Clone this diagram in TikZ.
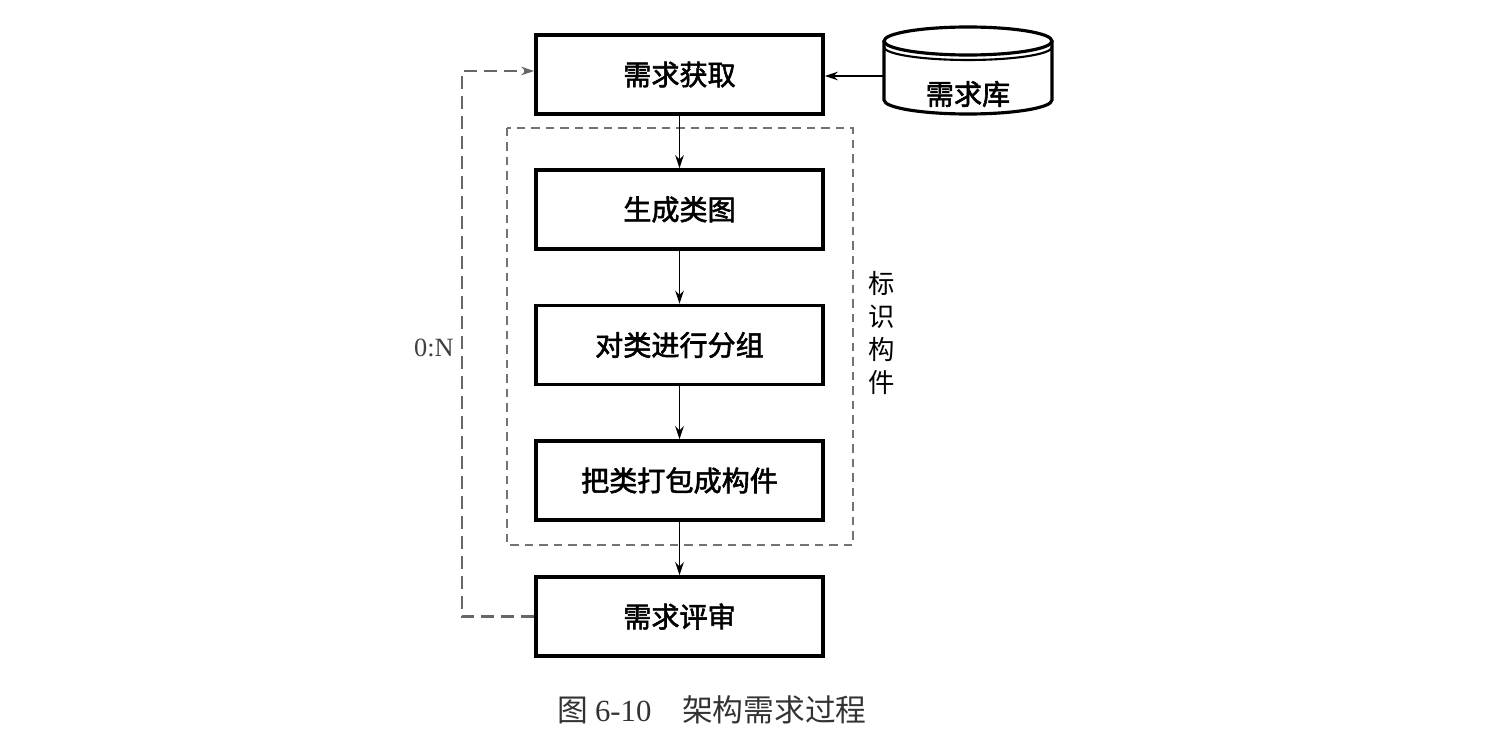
\documentclass[tikz,border=0pt]{standalone}
\usepackage{fontspec}
\setmainfont{Liberation Serif}
\newfontfamily\cjk{Noto Sans CJK SC}
\newfontfamily\cjkb{Noto Sans CJK SC}[FakeBold=2]
\usetikzlibrary{arrows.meta}
\begin{document}
\begin{tikzpicture}[x=0.02cm,y=-0.02cm,
  procbox/.style={draw, line width=2pt, minimum width=5.74cm, minimum height=1.58cm, inner sep=0pt,
    font=\cjkb\fontsize{16}{16}\selectfont},
  arr/.style={line width=0.7pt, -{Stealth[length=2.6mm,width=1.7mm]}},
  gdash/.style={draw=black!60, line width=1.5pt, dash pattern=on 0.26cm off 0.14cm},
  gdashbox/.style={draw=black!55, line width=1.4pt, dash pattern=on 0.17cm off 0.12cm},
  cyl/.style={line width=1.8pt}]
\useasboundingbox (0,0) rectangle (1490,750);
% process boxes
\node[procbox] (b1) at (679.5,74.5) {需求获取};
\node[procbox] (b2) at (679.5,209.5) {生成类图};
\node[procbox] (b3) at (679.5,345) {对类进行分组};
\node[procbox] (b4) at (679.5,480.5) {把类打包成构件};
\node[procbox] (b5) at (679.5,616.5) {需求评审};
% dashed group
\draw[gdashbox] (507,128) rectangle (853,545);
\node[font=\cjk\fontsize{15}{18.8}\selectfont, align=center, inner sep=0pt] (lbl) at (882,333) {标\\识\\构\\件};
% connectors
\draw[arr] (b1) -- (b2);
\draw[arr] (b2) -- (b3);
\draw[arr] (b3) -- (b4);
\draw[arr] (b4) -- (b5);
% database cylinder
\draw[cyl] (884,41) -- (884,100) arc[start angle=180, end angle=360, x radius=1.68cm, y radius=0.28cm] -- (1052,41);
\draw[cyl] (968,41) ellipse [x radius=1.68cm, y radius=0.28cm];
\draw[line width=1.2pt] (884,47) arc[start angle=180, end angle=360, x radius=1.68cm, y radius=0.26cm];
\node[font=\cjkb\fontsize{16}{16}\selectfont, inner sep=0pt] (db) at (968,94) {需求库};
\coordinate (dbl) at (884,76);
\draw[arr] (dbl) -- (dbl -| b1.east);
% feedback loop
\coordinate (lp) at (462,71);
\draw[gdash, -{Stealth[length=2.6mm,width=1.7mm]}] (b5.west) -| (lp) -- (lp -| b1.west);
\node[font=\fontsize{15}{15}\selectfont, anchor=east, inner sep=0pt, text=black!75] (ratio) at (454,348) {0:N};
% caption
\node[font=\cjk\fontsize{17.5}{17.5}\selectfont, text=black!80, inner sep=0pt] (cap) at (712,710) {图 {\rmfamily 6-10}\hspace{1em}架构需求过程};
\end{tikzpicture}
\end{document}
